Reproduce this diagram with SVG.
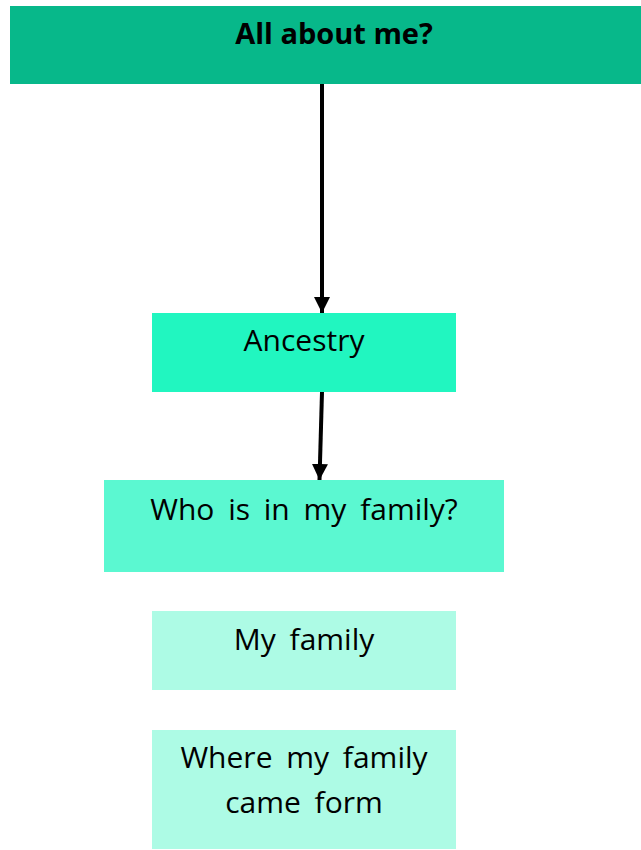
<svg xmlns="http://www.w3.org/2000/svg" width="641" height="850" viewBox="0 0 641 850">
<style>
.t{font-family:"Open Sans","Liberation Sans",sans-serif;font-size:30px;fill:#000;text-anchor:middle;word-spacing:6px}
.b{font-weight:bold;font-size:29px;word-spacing:0}
.c{fill:none;stroke:#000;stroke-width:4}
</style>
<defs>
<marker id="ah" viewBox="0 0 10 10" refX="10" refY="5" markerWidth="4" markerHeight="4" orient="auto" markerUnits="strokeWidth">
<path d="M0,0 L10,5 L0,10 z" fill="#000"/>
</marker>
</defs>
<rect width="641" height="850" fill="#fff"/>
<g id="node-top">
<rect x="10" y="6" width="631" height="78" fill="#07B88A"/>
<text class="t b" x="334" y="44">All about me?</text>
</g>
<g id="node-ancestry">
<rect x="152" y="313" width="304" height="79" fill="#21F6C0"/>
<text class="t" x="304" y="351">Ancestry</text>
</g>
<g id="node-who">
<rect x="104" y="480" width="400" height="92" fill="#5BF8D1"/>
<text class="t" x="304" y="520">Who is in my family?</text>
</g>
<g id="node-myfamily">
<rect x="152" y="611" width="304" height="79" fill="#ADFBE5"/>
<text class="t" x="304" y="650">My family</text>
</g>
<g id="node-where">
<rect x="152" y="730" width="304" height="119" fill="#ADFBE5"/>
<text class="t" x="304" y="768">Where my family</text>
<text class="t" x="304" y="813">came form</text>
</g>
<g id="connectors">
<line class="c" x1="322" y1="84" x2="322" y2="313" marker-end="url(#ah)"/>
<line class="c" x1="322" y1="392" x2="319.5" y2="480" marker-end="url(#ah)"/>
</g>
</svg>
